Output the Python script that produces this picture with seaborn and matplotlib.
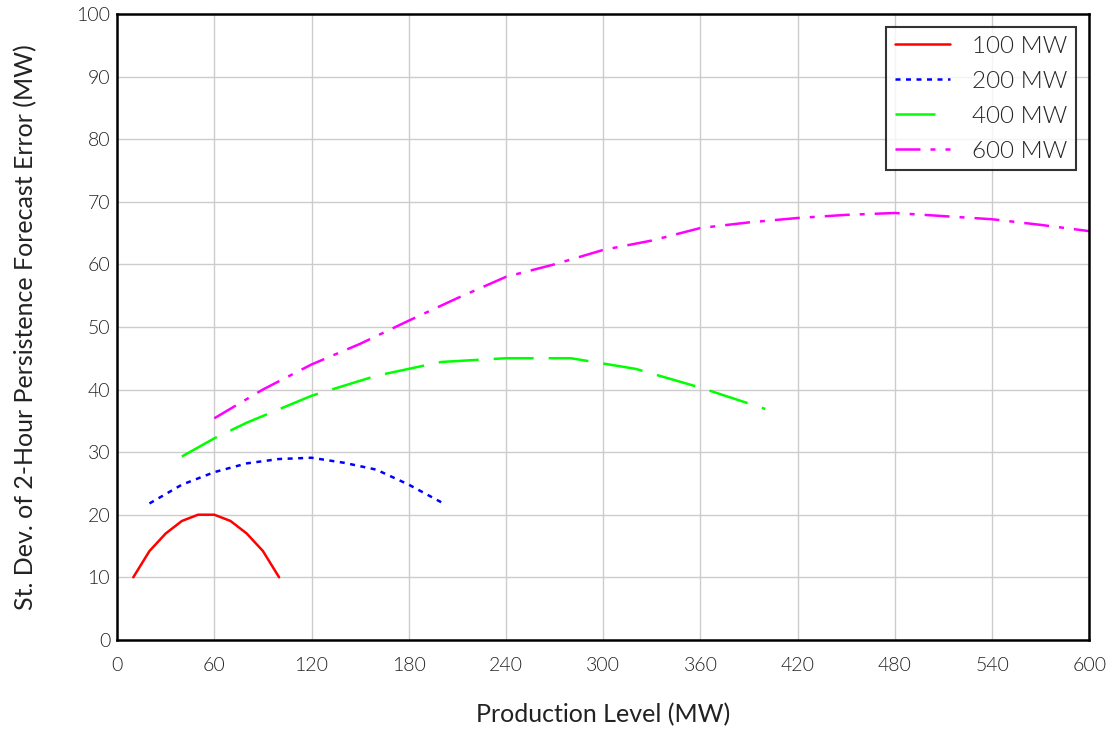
import pandas as pd
import seaborn as sns
import matplotlib
matplotlib.use("Agg")
import matplotlib.pyplot as plt

# values
x_100 = [10, 20, 30, 40, 50, 60, 70, 80, 90, 100]
y_100 = [10, 14.2, 17, 19, 20, 20, 19, 17, 14.2, 10]

x_200 = [20, 40, 60, 80, 100, 120, 140, 160, 180, 200]
y_200 = [21.8, 24.8, 26.8, 28.2, 28.9, 29.1, 28.3, 27.2, 24.8, 22]

x_400 = [40, 60, 80, 120, 160, 200, 240, 280, 320, 360, 400]
y_400 = [29.3, 32.2, 34.7, 39, 42.2, 44.4, 45, 45, 43.3, 40.3, 36.9]

x_600 = [60, 90, 120, 150, 180, 210, 240, 270, 300, 330, 360, 390,
         420, 450, 480, 510, 540, 570, 600]
y_600 = [35.4, 40, 44, 47.3, 51, 54.6, 58, 60, 62.3, 63.8, 65.8, 66.7,
         67.4, 67.9, 68.2, 67.7, 67.2, 66.3, 65.3]

labels = ["100 MW", "200 MW", "400 MW", "600 MW"]

frames = []
for lab, xs, ys in zip(labels, [x_100, x_200, x_400, x_600], [y_100, y_200, y_400, y_600]):
    frames.append(pd.DataFrame({"x": xs, "y": ys, "size": lab}))
df = pd.concat(frames, ignore_index=True)

sns.set_style("white")
plt.rcParams['font.family'] = ['Lato', 'DejaVu Sans']
plt.rcParams['font.weight'] = 300

fig = plt.figure(figsize=(11.15, 7.33), dpi=100)
ax = fig.add_axes([0.105, 0.127, 0.872, 0.854])

palette = {"100 MW": "#ff0000", "200 MW": "#0000ff", "400 MW": "#00ff00", "600 MW": "#ff00ff"}
dashes = {"100 MW": "", "200 MW": (2, 2.2), "400 MW": (16, 6), "600 MW": (10, 4, 2, 4)}

sns.lineplot(data=df, x="x", y="y", hue="size", style="size", palette=palette,
             dashes=dashes, linewidth=1.8, ax=ax, sort=False)

ax.set_xlim(0, 600)
ax.set_ylim(0, 100)
ax.set_xticks(range(0, 601, 60))
ax.set_yticks(range(0, 101, 10))
ax.grid(True, color="#cccccc", linewidth=1)
ax.tick_params(axis="y", labelsize=14, colors="#222222", length=0, pad=5)
ax.tick_params(axis="x", labelsize=14, colors="#222222", length=0, pad=12)
for sp in ax.spines.values():
    sp.set_color("black")
    sp.set_linewidth(1.8)

ax.set_xlabel("Production Level (MW)", fontsize=18, color="#222222", labelpad=21)
ax.set_ylabel("St. Dev. of 2-Hour Persistence Forecast Error (MW)", fontsize=18,
              color="#222222", labelpad=28)

leg = ax.legend(loc="upper right", bbox_to_anchor=(0.9865, 0.979), fontsize=17.5,
                frameon=True, fancybox=False, handlelength=2.3, borderpad=0.35,
                labelspacing=0.58, handletextpad=0.9, borderaxespad=0)
leg.get_frame().set_edgecolor("black")
leg.get_frame().set_linewidth(1.5)
leg.set_title(None)

fig.savefig("out.png", dpi=100)
